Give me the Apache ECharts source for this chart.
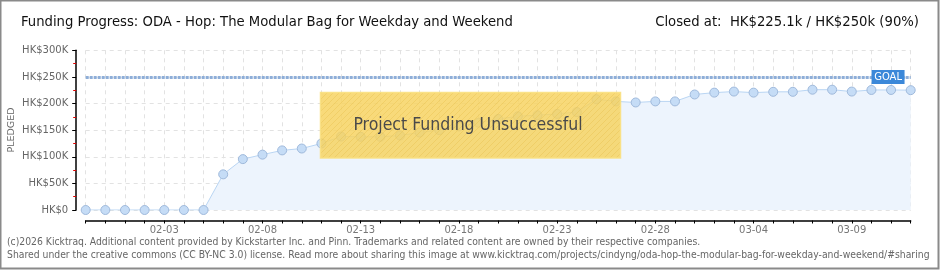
<!DOCTYPE html>
<html><head><meta charset="utf-8">
<script src="https://cdn.jsdelivr.net/npm/echarts@6/dist/echarts.min.js"></script>
<style>html,body{margin:0;padding:0;background:#fff}#c{width:940px;height:270px}</style>
</head><body><div id="c"></div>
<script>
const dates = ['01-30','01-31','02-01','02-02','02-03','02-04','02-05','02-06','02-07','02-08',
 '02-09','02-10','02-11','02-12','02-13','02-14','02-15','02-16','02-17','02-18',
 '02-19','02-20','02-21','02-22','02-23','02-24','02-25','02-26','02-27','02-28',
 '02-29','03-01','03-02','03-03','03-04','03-05','03-06','03-07','03-08','03-09',
 '03-10','03-11','03-12'];
const pledged = [0,0,0,0,0,0,0,67000,95600,104000,
 112000,115500,125000,138000,137500,137500,140000,145500,150000,157000,
 164000,171000,176000,178000,180500,184000,208000,204000,202000,204000,
 204000,217000,220500,222500,220500,222000,222000,226000,226000,222500,
 225500,225500,225100];
const goal = 250000;
const yTicks = [0,50000,100000,150000,200000,250000,300000];
const yName = 'PLEDGED';
const titleText = 'Funding Progress: ODA - Hop: The Modular Bag for Weekday and Weekend';
const closedText = 'Closed at:  HK$225.1k / HK$250k (90%)';
const bannerText = 'Project Funding Unsuccessful';
const footer1 = '(c)2026 Kicktraq. Additional content provided by Kickstarter Inc. and Pinn. Trademarks and related content are owned by their respective companies.';
const footer2 = 'Shared under the creative commons (CC BY-NC 3.0) license. Read more about sharing this image at www.kicktraq.com/projects/cindyng/oda-hop-the-modular-bag-for-weekday-and-weekend/#sharing';

const pc = document.createElement('canvas');
pc.width = 6; pc.height = 6;
const g = pc.getContext('2d');
g.fillStyle = 'rgba(247,211,96,0.84)'; g.fillRect(0,0,6,6);
g.strokeStyle = 'rgba(225,185,70,0.35)'; g.lineWidth = 1;
g.beginPath(); g.moveTo(0,6); g.lineTo(6,0); g.stroke();
g.beginPath(); g.moveTo(-3,3); g.lineTo(3,-3); g.stroke();
g.beginPath(); g.moveTo(3,9); g.lineTo(9,3); g.stroke();

const chart = echarts.init(document.getElementById('c'), null, {renderer:'canvas'});
const condensed = '"DejaVu Sans Condensed","Liberation Sans Narrow","DejaVu Sans",sans-serif';
chart.setOption({
  animation:false,
  grid:{left:85.7, right:29.3, top:50.3, bottom:60, containLabel:false, outerBoundsMode:'none'},
  xAxis:{
    type:'category', data:dates, boundaryGap:false, offset:10.5,
    axisLine:{onZero:false, lineStyle:{color:'#000', width:1.5}},
    axisTick:{show:true, interval:0, length:3, lineStyle:{color:'#000'}},
    axisLabel:{interval:(i)=> (i-4)%5===0, margin:5, color:'#777', fontSize:10, fontFamily:'"DejaVu Sans",sans-serif'},
    splitLine:{show:true, interval:0, lineStyle:{color:'#e2e2e2', type:[4,4]}}
  },
  yAxis:{
    type:'value', min:yTicks[0], max:yTicks[yTicks.length-1], interval:50000, offset:9.5,
    axisLine:{show:true, onZero:false, lineStyle:{color:'#000', width:1.5}},
    axisTick:{show:true, length:4, lineStyle:{color:'#000'}},
    minorTick:{show:true, splitNumber:2, length:3, lineStyle:{color:'#e00000'}},
    axisLabel:{margin:8, color:'#666', fontSize:10, fontFamily:'"DejaVu Sans",sans-serif',
      formatter:(v)=> v===0 ? 'HK$0' : 'HK$'+(v/1000)+'K'},
    splitLine:{show:true, lineStyle:{color:'#e2e2e2', type:[4,4]}}
  },
  series:[{
    type:'line', data:pledged, symbol:'circle', symbolSize:9,
    lineStyle:{color:'#b9d5f3', width:1},
    itemStyle:{color:'#c5dcf6', borderColor:'#9fb9db', borderWidth:1},
    areaStyle:{color:'#edf4fd', opacity:1},
    z:2,
    markLine:{
      silent:true, symbol:'none',
      lineStyle:{color:'#8eaed8', width:3, type:[3,1]},
      label:{show:false},
      data:[{yAxis:goal}]
    },
    markPoint:{
      silent:true, symbol:'rect', symbolSize:[33,14], symbolOffset:[-3,0],
      itemStyle:{color:'#3b88d9'},
      label:{show:true, formatter:'GOAL', color:'#fff', fontSize:10, fontFamily:'"DejaVu Sans",sans-serif'},
      data:[{coord:[41, goal]}]
    }
  }],
  graphic:[
    {type:'rect', z:200, shape:{x:0.5,y:0.5,width:938,height:268}, style:{fill:null, stroke:'#8a8a8a', lineWidth:2}},
    {type:'text', z:200, left:21, top:15, style:{text:titleText, fill:'#111', fontSize:14.7, fontFamily:condensed}},
    {type:'text', z:200, right:21, top:15, style:{text:closedText, fill:'#111', fontSize:14.7, fontFamily:condensed}},
    {type:'text', z:200, x:12, y:130, rotation:Math.PI/2, style:{text:yName, fill:'#666', fontSize:9.5,
      fontFamily:'"DejaVu Sans",sans-serif', align:'center', verticalAlign:'middle'}},
    {type:'rect', z:150, shape:{x:320.5,y:92.5,width:300,height:65.5},
      style:{fill:{image:pc, repeat:'repeat'}, stroke:'rgba(250,224,130,0.9)', lineWidth:1.5}},
    {type:'text', z:160, x:468, y:125, style:{text:bannerText, fill:'#4a4a4a', fontSize:17.5, fontFamily:condensed,
      align:'center', verticalAlign:'middle', textShadowColor:'#fff', textShadowOffsetX:1, textShadowOffsetY:1, textShadowBlur:0}},
    {type:'text', z:200, left:7, top:237, style:{text:footer1, fill:'#666', fontSize:10.3, fontFamily:condensed}},
    {type:'text', z:200, left:7, top:250, style:{text:footer2, fill:'#666', fontSize:10.3, fontFamily:condensed}}
  ]
});
</script></body></html>
